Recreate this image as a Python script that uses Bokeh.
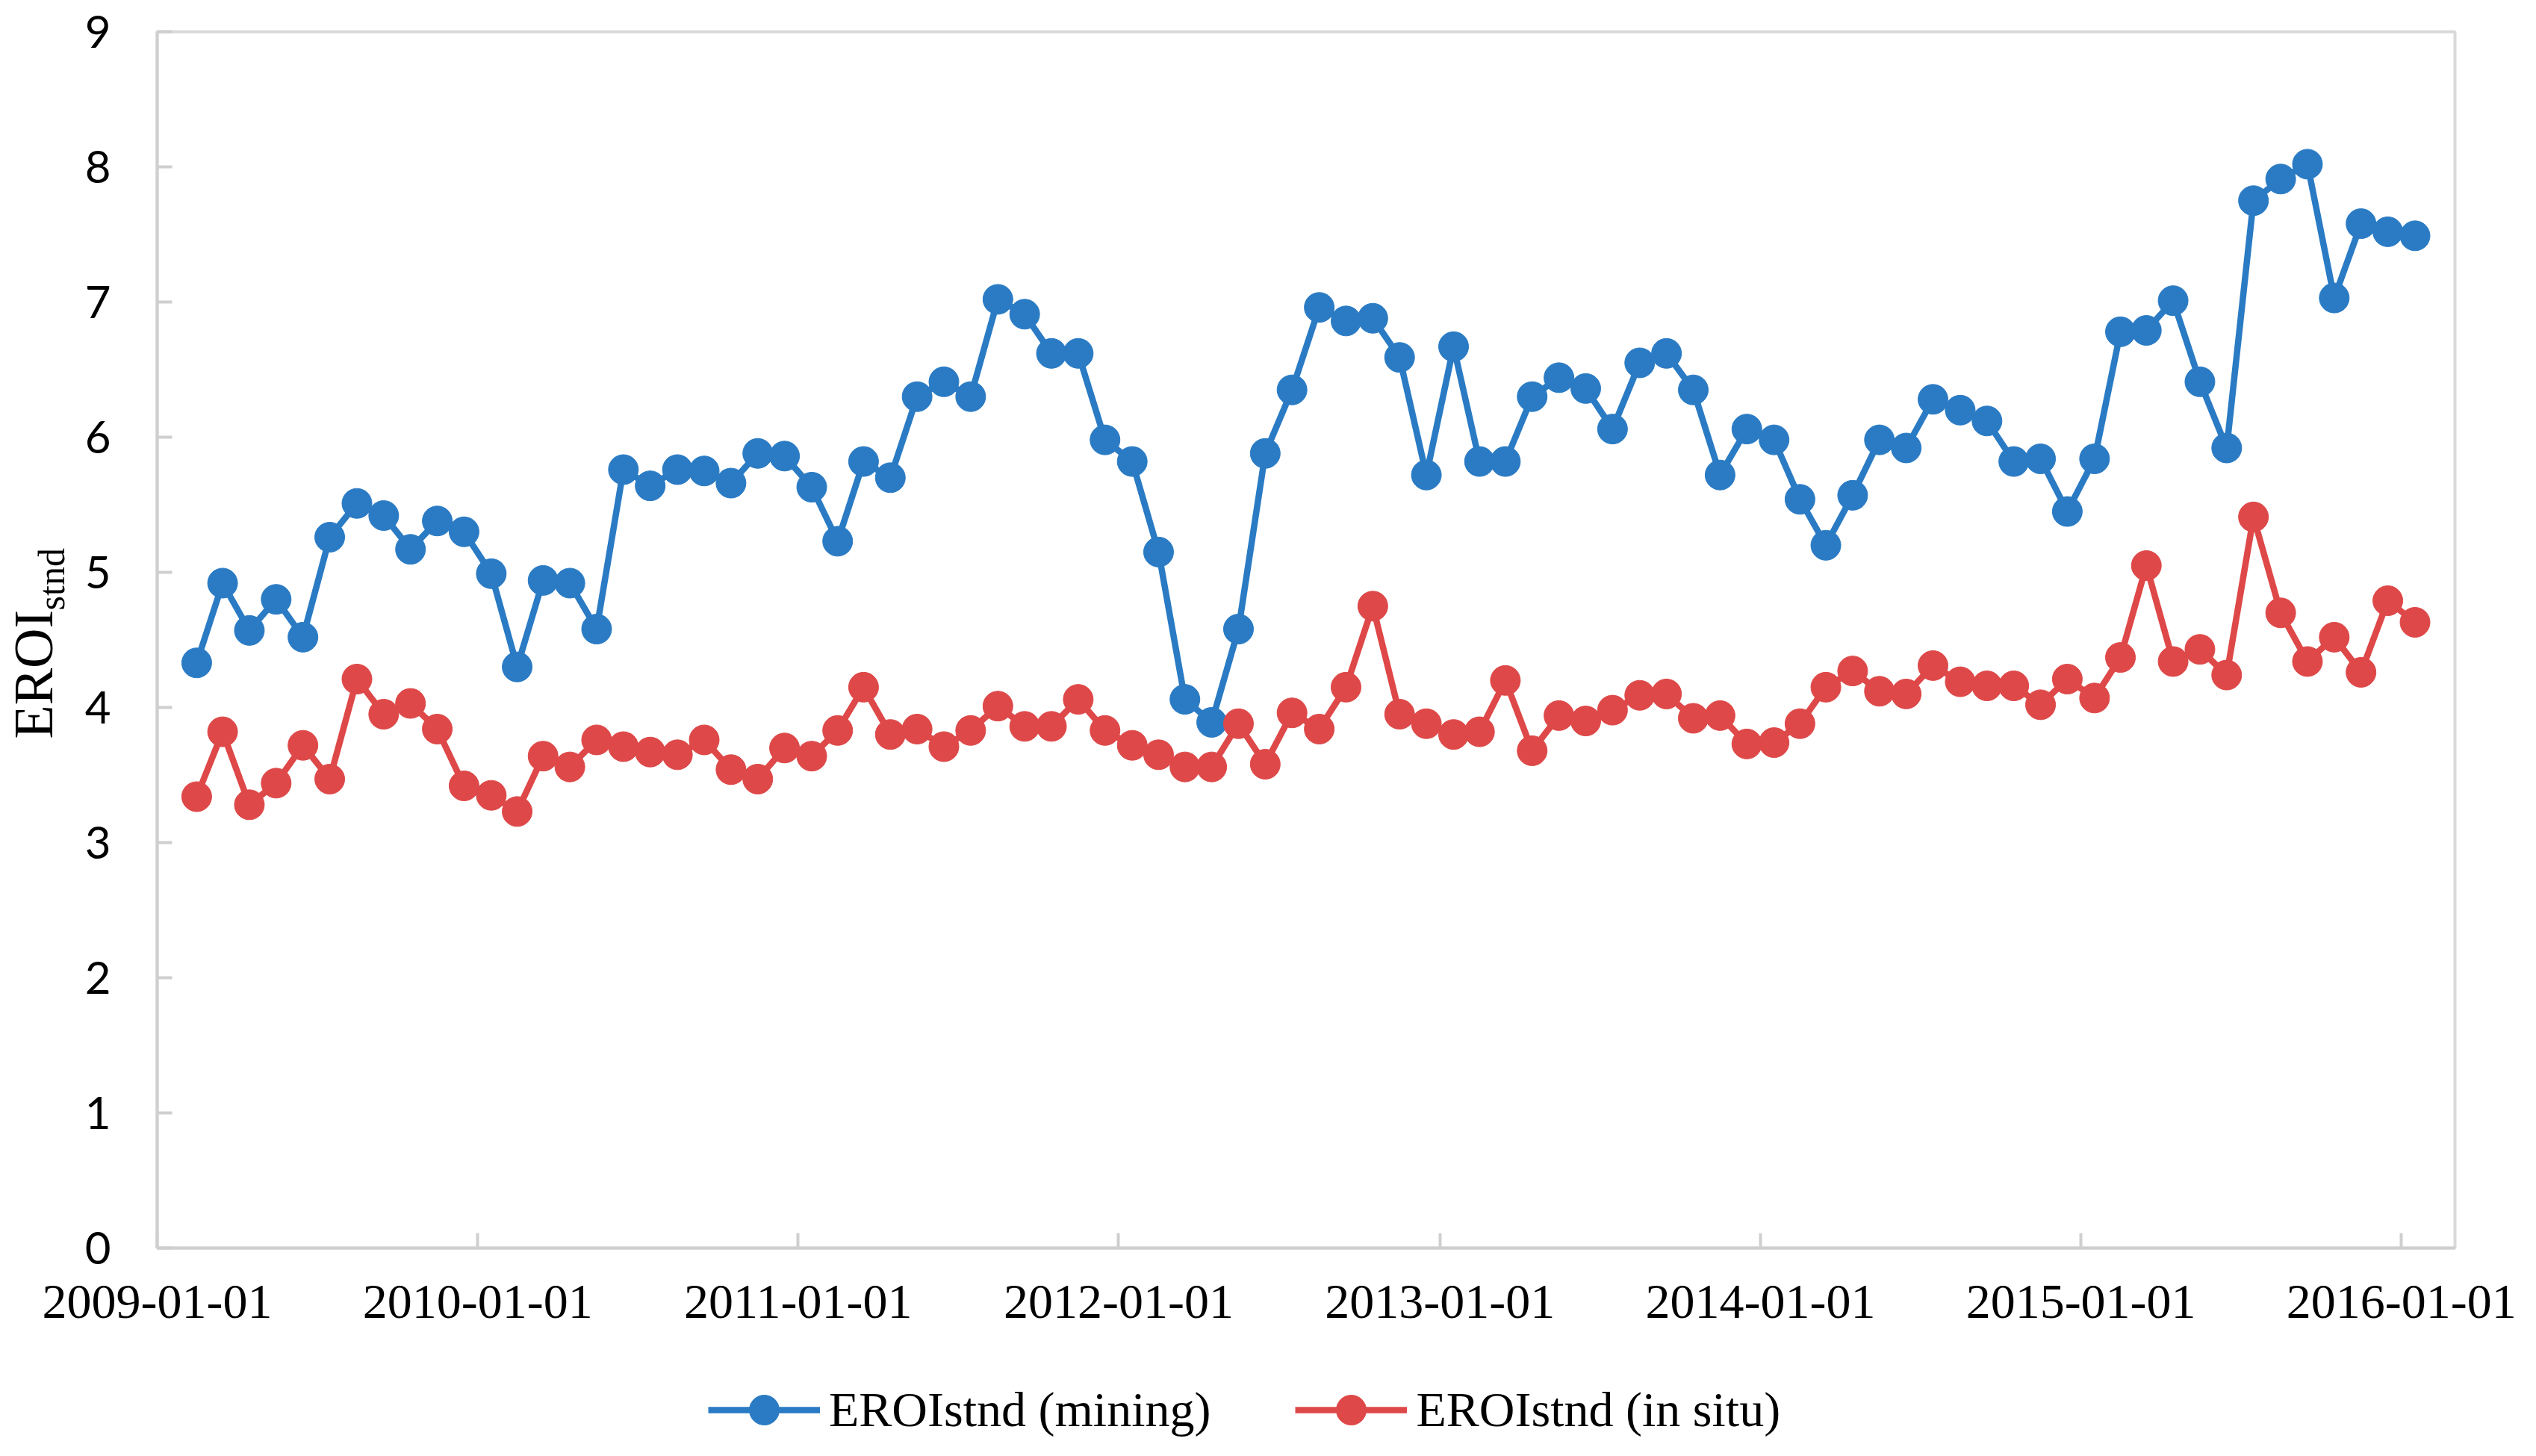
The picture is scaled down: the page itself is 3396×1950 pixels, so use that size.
import pandas as pd
from bokeh.plotting import figure
from bokeh.layouts import column
from bokeh.models import (Range1d, FixedTicker, DatetimeTickFormatter, LinearAxis,
                          Legend, LegendItem)
from bokeh.embed import file_html
from bokeh.resources import INLINE

# ---- data (monthly, Feb 2009 .. Jan 2016) ----
first_month = "2009-02-01"
mining = [4.33, 4.92, 4.57, 4.80, 4.52, 5.26, 5.51, 5.42, 5.17, 5.38, 5.30, 4.99,
          4.30, 4.94, 4.92, 4.58, 5.76, 5.64, 5.76, 5.75, 5.66, 5.88, 5.86, 5.63,
          5.23, 5.82, 5.70, 6.30, 6.41, 6.30, 7.02, 6.91, 6.62, 6.62, 5.98, 5.82,
          5.15, 4.06, 3.89, 4.58, 5.88, 6.35, 6.96, 6.86, 6.88, 6.59, 5.72, 6.67,
          5.82, 5.82, 6.30, 6.44, 6.36, 6.06, 6.55, 6.62, 6.35, 5.72, 6.06, 5.98,
          5.54, 5.20, 5.57, 5.98, 5.92, 6.28, 6.20, 6.12, 5.82, 5.84, 5.45, 5.84,
          6.78, 6.79, 7.01, 6.41, 5.92, 7.75, 7.91, 8.02, 7.03, 7.58, 7.52, 7.49]
in_situ = [3.34, 3.82, 3.28, 3.44, 3.72, 3.47, 4.21, 3.95, 4.03, 3.84, 3.42, 3.35,
           3.23, 3.64, 3.56, 3.76, 3.71, 3.67, 3.65, 3.76, 3.54, 3.47, 3.70, 3.64,
           3.83, 4.15, 3.80, 3.84, 3.71, 3.83, 4.01, 3.86, 3.86, 4.06, 3.83, 3.72,
           3.65, 3.56, 3.56, 3.88, 3.58, 3.96, 3.84, 4.15, 4.75, 3.95, 3.88, 3.80,
           3.82, 4.20, 3.68, 3.94, 3.90, 3.98, 4.09, 4.10, 3.92, 3.94, 3.73, 3.74,
           3.88, 4.15, 4.27, 4.12, 4.10, 4.31, 4.19, 4.16, 4.16, 4.02, 4.21, 4.07,
           4.37, 5.05, 4.34, 4.43, 4.24, 5.41, 4.70, 4.34, 4.52, 4.26, 4.79, 4.63]
year_ticks = ["2009-01-01", "2010-01-01", "2011-01-01", "2012-01-01",
              "2013-01-01", "2014-01-01", "2015-01-01", "2016-01-01"]
y_ticks = [0, 1, 2, 3, 4, 5, 6, 7, 8, 9]
series_names = ["EROIstnd (mining)", "EROIstnd (in situ)"]
axis_title = "EROI"
axis_title_sub = "stnd"

BLUE = "#2A7BC4"
RED = "#DE4848"
AXIS = "#CFCFCF"
NBSP = "\u00a0"

W, H = 3396, 1950
LEG_H = 150          # bottom strip holding the legend
TOP = 42
MAIN_H = H - LEG_H
BOTTOM = MAIN_H - 1671

months = pd.date_range(first_month, periods=len(mining), freq="MS")
x = months + (months.shift(1) - months) / 2   # centre of each month bin

p = figure(width=W, height=MAIN_H, x_axis_type="datetime",
           output_backend="svg", toolbar_location=None,
           x_range=Range1d(pd.Timestamp("2009-01-01"), pd.Timestamp("2016-03-02")),
           y_range=Range1d(0, 9),
           min_border_left=207, min_border_right=109,
           min_border_top=TOP, min_border_bottom=BOTTOM)
p.background_fill_color = "white"
p.border_fill_color = "white"
p.outline_line_color = "#D9D9D9"
p.outline_line_width = 4
p.xgrid.visible = False
p.ygrid.visible = False

p.xaxis.ticker = FixedTicker(ticks=[pd.Timestamp(t).value / 1e6 for t in year_ticks])
fmt = "%Y-%m-%d"
p.xaxis.formatter = DatetimeTickFormatter(years=fmt, months=fmt, days=fmt, hours=fmt,
                                          minutes=fmt, seconds=fmt, milliseconds=fmt,
                                          microseconds=fmt, minsec=fmt, hourmin=fmt)
p.yaxis.ticker = FixedTicker(ticks=y_ticks)

for ax in (p.xaxis, p.yaxis):
    ax.axis_line_color = AXIS
    ax.axis_line_width = 4
    ax.major_tick_line_color = AXIS
    ax.major_tick_line_width = 4
    ax.major_tick_in = 20
    ax.major_tick_out = 0
    ax.minor_tick_line_color = None
    ax.major_label_text_color = "#000000"

p.xaxis.major_label_text_font = "Liberation Serif"
p.xaxis.major_label_text_font_size = "66px"
p.xaxis.major_label_standoff = 50
p.yaxis.major_label_text_font = "Lato"
p.yaxis.major_label_text_font_size = "60px"
p.yaxis.major_label_standoff = 62

# y-axis title: subscript "stnd" on the main axis, "EROI" on an outer, tick-less axis
p.yaxis.axis_label = NBSP * 13 + axis_title_sub
p.yaxis.axis_label_text_font = "Liberation Serif"
p.yaxis.axis_label_text_font_size = "50px"
p.yaxis.axis_label_text_font_style = "normal"
p.yaxis.axis_label_text_color = "#000000"
p.yaxis.axis_label_standoff = 14

outer = LinearAxis(ticker=FixedTicker(ticks=[]), axis_label=axis_title + NBSP * 5,
                   axis_line_color=None, major_tick_line_color=None,
                   minor_tick_line_color=None, major_label_text_font_size="0px",
                   major_tick_in=0, major_tick_out=0, major_label_standoff=0,
                   axis_label_standoff=-48,
                   axis_label_text_font="Liberation Serif",
                   axis_label_text_font_size="74px",
                   axis_label_text_font_style="normal",
                   axis_label_text_color="#000000")
p.add_layout(outer, "left")

p.line(x, mining, line_width=8.5, color=BLUE)
p.scatter(x, mining, size=40, color=BLUE)
p.line(x, in_situ, line_width=8.5, color=RED)
p.scatter(x, in_situ, size=40, color=RED)

# ---- bottom strip: legend (proxy renderers carry only the styles) ----
lg = figure(width=W, height=LEG_H, output_backend="svg", toolbar_location=None,
            x_range=Range1d(0, 1), y_range=Range1d(0, 1),
            x_axis_location=None, y_axis_location=None,
            min_border_left=0, min_border_right=0, min_border_top=0, min_border_bottom=0)
lg.outline_line_color = None
lg.xgrid.visible = False
lg.ygrid.visible = False
nan = [float("nan")]
k1 = lg.line(nan, nan, line_width=8.5, color=BLUE)
k2 = lg.scatter(nan, nan, size=40, color=BLUE)
k3 = lg.line(nan, nan, line_width=8.5, color=RED)
k4 = lg.scatter(nan, nan, size=40, color=RED)
# the column aligns this strip's frame with the main frame (left edge at 207 px)
legend = Legend(items=[LegendItem(label=series_names[0], renderers=[k1, k2]),
                       LegendItem(label=series_names[1], renderers=[k3, k4])],
                orientation="horizontal", location=(945 - 207, 12),
                glyph_width=150, glyph_height=100, label_standoff=12, spacing=113,
                padding=0, margin=0, border_line_alpha=0, background_fill_alpha=0,
                label_text_font="Liberation Serif", label_text_font_size="66px",
                label_text_color="#000000")
lg.add_layout(legend)

layout = column(p, lg, spacing=0)
open("out.html", "w").write(file_html(layout, INLINE))
